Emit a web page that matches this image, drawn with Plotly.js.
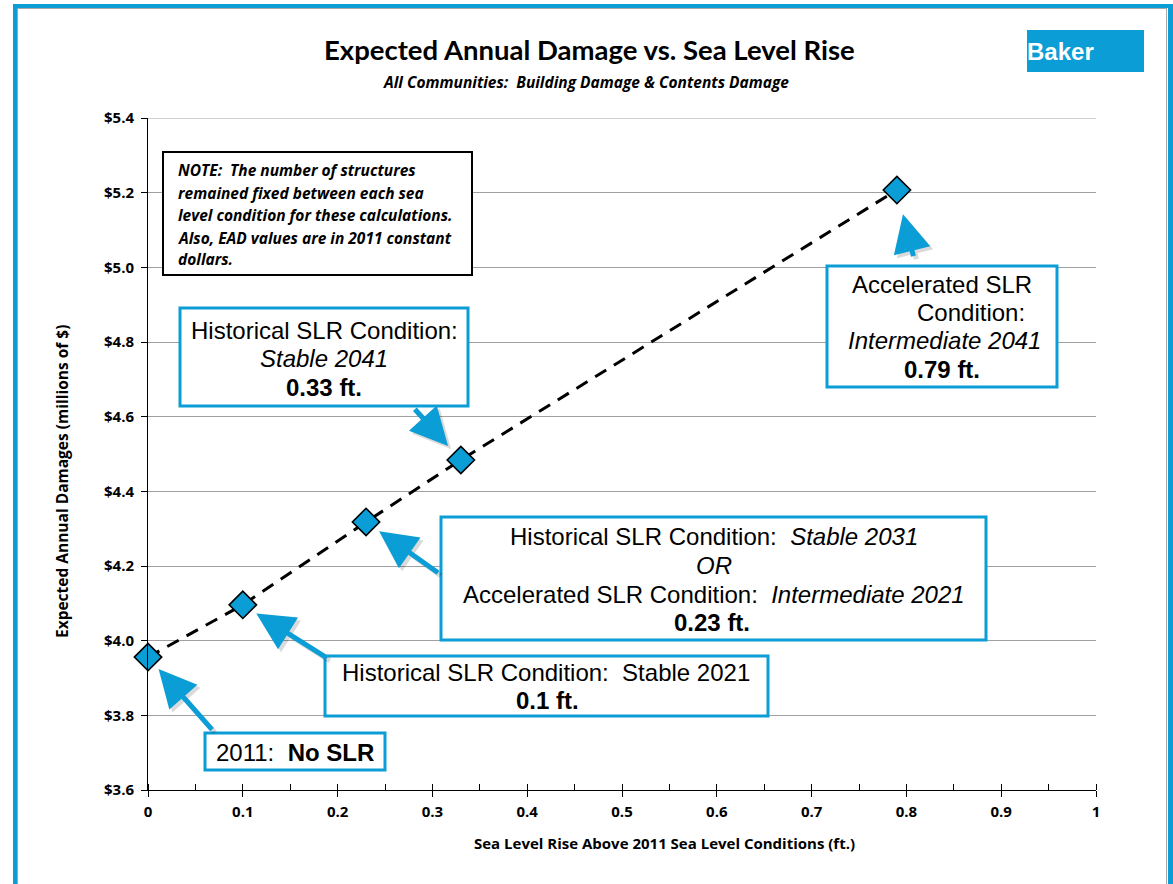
<!DOCTYPE html>
<html>
<head>
<meta charset="utf-8">
<script src="https://cdn.plot.ly/plotly-3.0.1.min.js"></script>
<style>html,body{margin:0;padding:0;background:#fff;}#chart{width:1173px;height:884px;}</style>
</head>
<body>
<div id="chart"></div>
<script>
// ---- data ----
const slrFeet = [0, 0.1, 0.23, 0.33, 0.79];
const eadMillions = [3.956, 4.096, 4.318, 4.484, 5.207];
const yTickVals = [3.6, 3.8, 4.0, 4.2, 4.4, 4.6, 4.8, 5.0, 5.2, 5.4];
const xTickVals = [0, 0.1, 0.2, 0.3, 0.4, 0.5, 0.6, 0.7, 0.8, 0.9, 1];

const BLUE = '#0B9DD6';
const W = 1173, H = 884;
const L = 148, R = 1096, T = 118, B = 790;
const px = x => (x - L) / (R - L);
const py = y => (B - y) / (B - T);
const NB = '\u00a0';

const lato = 'Lato, Carlito, Calibri, sans-serif';
const open = '"Open Sans", "Noto Sans", sans-serif';
const arial = '"Liberation Sans", Arial, sans-serif';

const annotations = [];
const shapes = [];

function txt(cx, cy, text, opts) {
  opts = opts || {};
  annotations.push({
    xref: 'paper', yref: 'paper', x: px(cx), y: py(cy),
    xanchor: opts.xanchor || 'center', yanchor: 'middle',
    text: text, showarrow: false, textangle: opts.angle || 0,
    font: {family: opts.family || arial, size: opts.size || 24, color: opts.color || '#000',
           weight: opts.weight || 'normal', style: opts.style || 'normal'}
  });
}
function box(x0, y0, x1, y1, color, width) {
  shapes.push({type: 'rect', xref: 'paper', yref: 'paper', layer: 'above',
    x0: px(x0), x1: px(x1), y0: py(y1), y1: py(y0),
    line: {color: color, width: width}, fillcolor: '#fff'});
}
function fillRect(x0, y0, x1, y1, color) {
  shapes.push({type: 'rect', xref: 'paper', yref: 'paper', layer: 'above',
    x0: px(x0), x1: px(x1), y0: py(y1), y1: py(y0),
    line: {width: 0}, fillcolor: color});
}
function arrow(i, ax, ay, standoff) {
  const base = {xref: 'x', yref: 'y', x: slrFeet[i], y: eadMillions[i], text: ' ',
    showarrow: true, axref: 'pixel', ayref: 'pixel', ax: ax, ay: ay,
    arrowhead: 2, arrowsize: 1.5, arrowwidth: 5, standoff: standoff};
  annotations.push(Object.assign({}, base, {arrowcolor: 'rgba(0,0,0,0.14)', xshift: 3, yshift: -3}));
  annotations.push(Object.assign({}, base, {arrowcolor: BLUE}));
}

// gridline at the top of the value axis
shapes.push({type: 'line', xref: 'paper', yref: 'y', x0: 0, x1: 1,
  y0: yTickVals[yTickVals.length - 1], y1: yTickVals[yTickVals.length - 1],
  line: {color: '#A0A0A0', width: 1}, layer: 'below'});

// outer frame
fillRect(13, 4, 17, 900, BLUE);
fillRect(13, 4, 1173, 8, BLUE);
fillRect(1168, 4, 1173, 900, BLUE);
fillRect(17, 8, 18, 900, '#A6A6A6');
fillRect(17, 8, 1167, 9, '#A6A6A6');
fillRect(1166, 8, 1167, 900, '#A6A6A6');

// logo
fillRect(1027, 30, 1144, 72, BLUE);
txt(1025, 51, 'Baker', {xanchor: 'left', size: 24, color: '#fff', weight: 'bold'});

// titles
txt(589, 50, 'Expected Annual Damage vs. Sea Level Rise', {family: lato, size: 27.5, weight: 'bold'});
txt(586, 82, 'All Communities:' + NB + NB + 'Building Damage & Contents Damage', {family: open, size: 15.5, weight: 'bold', style: 'italic'});
txt(664, 843, 'Sea Level Rise Above 2011 Sea Level Conditions (ft.)', {family: open, size: 15, weight: 'bold'});
txt(62, 482, 'Expected Annual Damages (millions of $)', {family: open, size: 15.5, weight: 'bold', angle: -90});

// note box
box(163, 152, 472, 275, '#000', 2);
const noteLines = ['NOTE:' + NB + NB + 'The number of structures', 'remained fixed between each sea',
  'level condition for these calculations.', 'Also, EAD values are in 2011 constant', 'dollars.'];
const noteY = [170, 193, 215, 238, 259];
noteLines.forEach((t, k) => txt(176, noteY[k], t, {xanchor: 'left', family: open, size: 15.5, weight: 'bold', style: 'italic'}));

// arrows
arrow(0, 67, 76, 16);
arrow(1, 87, 55, 16);
arrow(2, 75, 53, 16);
arrow(3, -49, -54, 19);
arrow(4, 19, 76, 25);

// callout boxes
box(180, 308, 468, 406, BLUE, 3);
txt(324, 330, 'Historical SLR Condition:');
txt(324, 358, '<i>Stable 2041</i>');
txt(324, 387, '<b>0.33 ft.</b>');

box(827, 266, 1057, 387, BLUE, 3);
txt(942, 284, 'Accelerated SLR');
txt(971, 312, 'Condition:');
txt(944, 340, '<i>Intermediate 2041</i>');
txt(942, 369, '<b>0.79 ft.</b>');

box(441, 517, 986, 640, BLUE, 3);
txt(713.5, 536, 'Historical SLR Condition:' + NB + NB + '<i>Stable 2031</i>');
txt(714, 565, '<i>OR</i>');
txt(713.5, 594, 'Accelerated SLR Condition:' + NB + NB + '<i>Intermediate 2021</i>');
txt(712, 622, '<b>0.23 ft.</b>');

box(325, 656, 768, 716, BLUE, 3);
txt(545.5, 672, 'Historical SLR Condition:' + NB + NB + 'Stable 2021');
txt(547, 700, '<b>0.1 ft.</b>');

box(205, 733, 385, 770, BLUE, 3);
txt(294.5, 752, '2011:' + NB + NB + '<b>No SLR</b>');

const trace = {
  x: slrFeet, y: eadMillions, type: 'scatter', mode: 'lines+markers',
  line: {color: '#000', width: 3, dash: '13px,9px'},
  marker: {symbol: 'diamond', size: 21, color: BLUE, line: {color: '#000', width: 1.6}},
  hoverinfo: 'skip', cliponaxis: false
};

const tickFont = {family: open, size: 15, color: '#000', weight: 'bold'};
const layout = {
  width: W, height: H,
  margin: {l: L, r: W - R, t: T, b: H - B, pad: 0},
  paper_bgcolor: '#fff', plot_bgcolor: '#fff',
  showlegend: false,
  xaxis: {range: [0, 1], tickvals: xTickVals, ticktext: xTickVals.map(String),
    showgrid: false, zeroline: false, showline: true, linecolor: '#000', linewidth: 1,
    ticks: 'outside', ticklen: 6, tickcolor: '#000', tickwidth: 1, tickfont: tickFont,
    ticklabelstandoff: 2,
    minor: {dtick: 0.05, ticks: 'inside', ticklen: 6, tickcolor: '#000', showgrid: false}},
  yaxis: {range: [3.6, 5.4], tickvals: yTickVals, ticktext: yTickVals.map(v => '$' + v.toFixed(1)),
    showgrid: true, gridcolor: '#A0A0A0', gridwidth: 1, zeroline: false,
    showline: true, linecolor: '#000', linewidth: 1,
    ticks: 'outside', ticklen: 6, tickcolor: '#000', tickwidth: 1, tickfont: tickFont,
    ticklabelstandoff: 4},
  shapes: shapes, annotations: annotations
};

Plotly.newPlot('chart', [trace], layout, {displayModeBar: false, staticPlot: true});
</script>
</body>
</html>
